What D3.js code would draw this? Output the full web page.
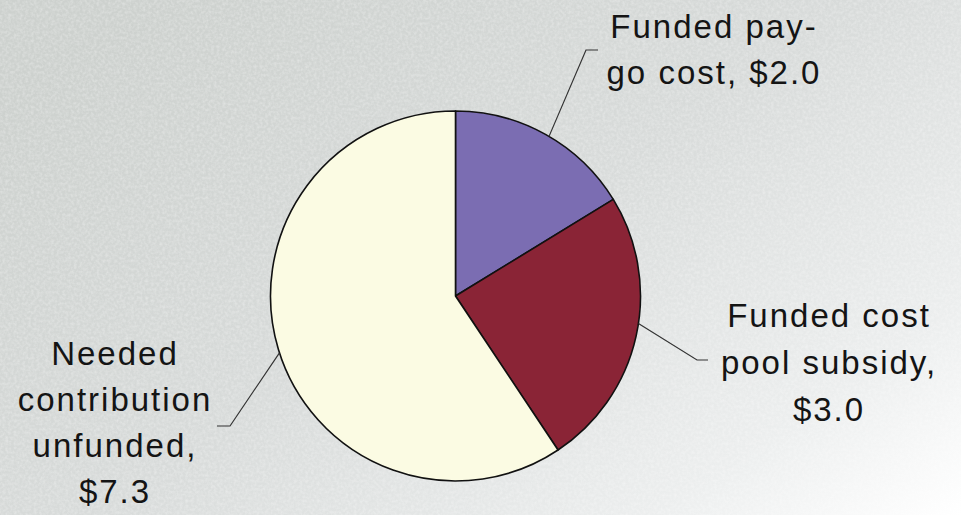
<!DOCTYPE html>
<html>
<head>
<meta charset="utf-8">
<script src="https://cdn.jsdelivr.net/npm/d3@7"></script>
<style>
  html, body { margin: 0; padding: 0; background: #fff; }
  svg { display: block; }
</style>
</head>
<body>
<svg id="chart" width="961" height="515"></svg>
<script>
const categories = ["Funded pay-go cost", "Funded cost pool subsidy", "Needed contribution unfunded"];
const values = [2.0, 3.0, 7.3];
const labelLines = [
  ["Funded pay-", "go cost, $2.0"],
  ["Funded cost", "pool subsidy,", "$3.0"],
  ["Needed", "contribution", "unfunded,", "$7.3"]
];
const colors = ["#7b6db2", "#8a2436", "#fbfbe3"];

const W = 961, H = 515;
const cx = 455.5, cy = 296, R = 185;

const svg = d3.select("#chart");
const defs = svg.append("defs");

const grad = defs.append("linearGradient").attr("id", "bg")
  .attr("x1", "0").attr("y1", "0.2").attr("x2", "1").attr("y2", "1");
grad.append("stop").attr("offset", "0").attr("stop-color", "#cdd1ce");
grad.append("stop").attr("offset", "0.45").attr("stop-color", "#d8dbda");
grad.append("stop").attr("offset", "0.8").attr("stop-color", "#eceeee");
grad.append("stop").attr("offset", "1").attr("stop-color", "#ffffff");

const noise = defs.append("filter").attr("id", "noise")
  .attr("x", 0).attr("y", 0).attr("width", "100%").attr("height", "100%");
noise.append("feTurbulence").attr("type", "fractalNoise")
  .attr("baseFrequency", "0.35").attr("numOctaves", 2).attr("seed", 3).attr("result", "t");
noise.append("feColorMatrix").attr("in", "t").attr("type", "matrix")
  .attr("values", "0 0 0 0 1  0 0 0 0 1  0 0 0 0 1  0 0 0 -1.6 1.05").attr("result", "w");
noise.append("feComposite").attr("in", "w").attr("in2", "SourceGraphic").attr("operator", "in");

svg.append("rect").attr("width", W).attr("height", H).attr("fill", "url(#bg)");
svg.append("rect").attr("width", W).attr("height", H).attr("fill", "#fff")
  .attr("opacity", 0.35).attr("filter", "url(#noise)");

const pie = d3.pie().sort(null).value(d => d);
const arcs = pie(values);
const arc = d3.arc().innerRadius(0).outerRadius(R);

const g = svg.append("g").attr("transform", `translate(${cx},${cy})`);
g.selectAll("path").data(arcs).join("path")
  .attr("d", arc)
  .attr("fill", (d, i) => colors[i])
  .attr("stroke", "#111")
  .attr("stroke-width", 1.6)
  .attr("stroke-linejoin", "round");

// leader lines: pie edge point -> elbow -> short horizontal end
const leaders = [
  { elbow: [586, 50], end: [598, 50] },
  { elbow: [697, 360], end: [708, 360] },
  { elbow: [230, 426], end: [217, 426] }
];
const anchorAngles = [0.53, 1.72, 4.40];
leaders.forEach((l, i) => {
  const a = anchorAngles[i];
  const p = [cx + R * Math.sin(a), cy - R * Math.cos(a)];
  svg.append("path")
    .attr("d", d3.line()([p, l.elbow, l.end]))
    .attr("fill", "none").attr("stroke", "#333").attr("stroke-width", 1.2);
});

const labelPos = [
  { x: 714, y: 38, dy: 46 },
  { x: 829, y: 327, dy: 47 },
  { x: 115, y: 365, dy: 46 }
];
labelLines.forEach((lines, i) => {
  const t = svg.append("text")
    .attr("text-anchor", "middle")
    .attr("font-family", "Liberation Sans, Arial, sans-serif")
    .attr("font-size", 33)
    .attr("letter-spacing", 2)
    .attr("fill", "#141414");
  lines.forEach((ln, j) => {
    t.append("tspan").attr("x", labelPos[i].x).attr("y", labelPos[i].y + j * labelPos[i].dy).text(ln);
  });
});
</script>
</body>
</html>
